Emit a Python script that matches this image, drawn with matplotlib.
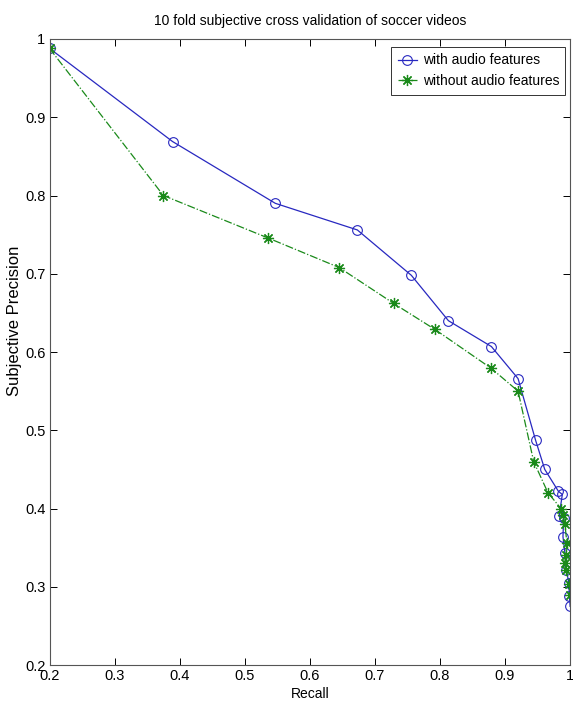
import matplotlib
matplotlib.use("Agg")
import matplotlib.pyplot as plt

# values
recall_audio = [0.2, 0.389, 0.547, 0.673, 0.756, 0.813, 0.879, 0.920, 0.947, 0.961,
                0.982, 0.988, 0.983, 0.990, 0.989, 0.992, 0.994, 0.998, 0.999, 1.0]
prec_audio = [0.988, 0.869, 0.790, 0.756, 0.698, 0.640, 0.607, 0.566, 0.487, 0.450,
              0.422, 0.418, 0.390, 0.388, 0.364, 0.343, 0.322, 0.305, 0.288, 0.275]

recall_noaudio = [0.2, 0.375, 0.535, 0.645, 0.729, 0.792, 0.879, 0.920, 0.944, 0.966,
                  0.986, 0.989, 0.992, 0.995, 0.993, 0.992, 0.994, 0.998, 1.0]
prec_noaudio = [0.988, 0.800, 0.746, 0.708, 0.662, 0.629, 0.579, 0.550, 0.460, 0.420,
                0.400, 0.392, 0.380, 0.356, 0.341, 0.330, 0.322, 0.304, 0.290]

tick_vals = [0.2, 0.3, 0.4, 0.5, 0.6, 0.7, 0.8, 0.9, 1.0]
tick_labels = ["0.2", "0.3", "0.4", "0.5", "0.6", "0.7", "0.8", "0.9", "1"]

plt.rcParams['font.family'] = ["Liberation Sans Narrow", "Liberation Sans", "DejaVu Sans"]

fig = plt.figure(figsize=(5.73, 7.09), dpi=100)
ax = fig.add_axes([0.0864, 0.062, 0.9086, 0.883])

ax.plot(recall_audio, prec_audio, '-', color='#2828c0', lw=0.9,
        marker='o', mfc='none', mec='#2828c0', ms=7, mew=0.8,
        label='with audio features')
ax.plot(recall_noaudio, prec_noaudio, '-.', color='#1a8a1a', lw=0.9,
        marker=(8, 2, 0), mfc='#1a8a1a', mec='#1a8a1a', ms=8, mew=0.9,
        label='without audio features')

ax.set_xlim(0.2, 1.0)
ax.set_ylim(0.2, 1.0)
ax.set_xticks(tick_vals)
ax.set_xticklabels(tick_labels)
ax.set_yticks(tick_vals)
ax.set_yticklabels(tick_labels)
ax.tick_params(direction='in', top=True, right=True, labelsize=10.5, length=5, width=0.7, pad=3)
for s in ax.spines.values():
    s.set_linewidth(0.8)
    s.set_color('#555555')

ax.set_title("10 fold subjective cross validation of soccer videos", fontsize=10, pad=10)
ax.set_xlabel("Recall", fontsize=10, labelpad=3)
ax.set_ylabel("Subjective Precision", fontsize=12, family=["Liberation Sans", "DejaVu Sans"])
ax.yaxis.set_label_coords(-0.052, 0.55)

leg = ax.legend(loc='upper right', bbox_to_anchor=(0.991, 0.987), borderaxespad=0,
                fontsize=10, frameon=True, fancybox=False, edgecolor='black',
                handlelength=1.4, handletextpad=0.4, borderpad=0.45)
leg.get_frame().set_linewidth(0.7)

fig.savefig("out.png", dpi=100)
